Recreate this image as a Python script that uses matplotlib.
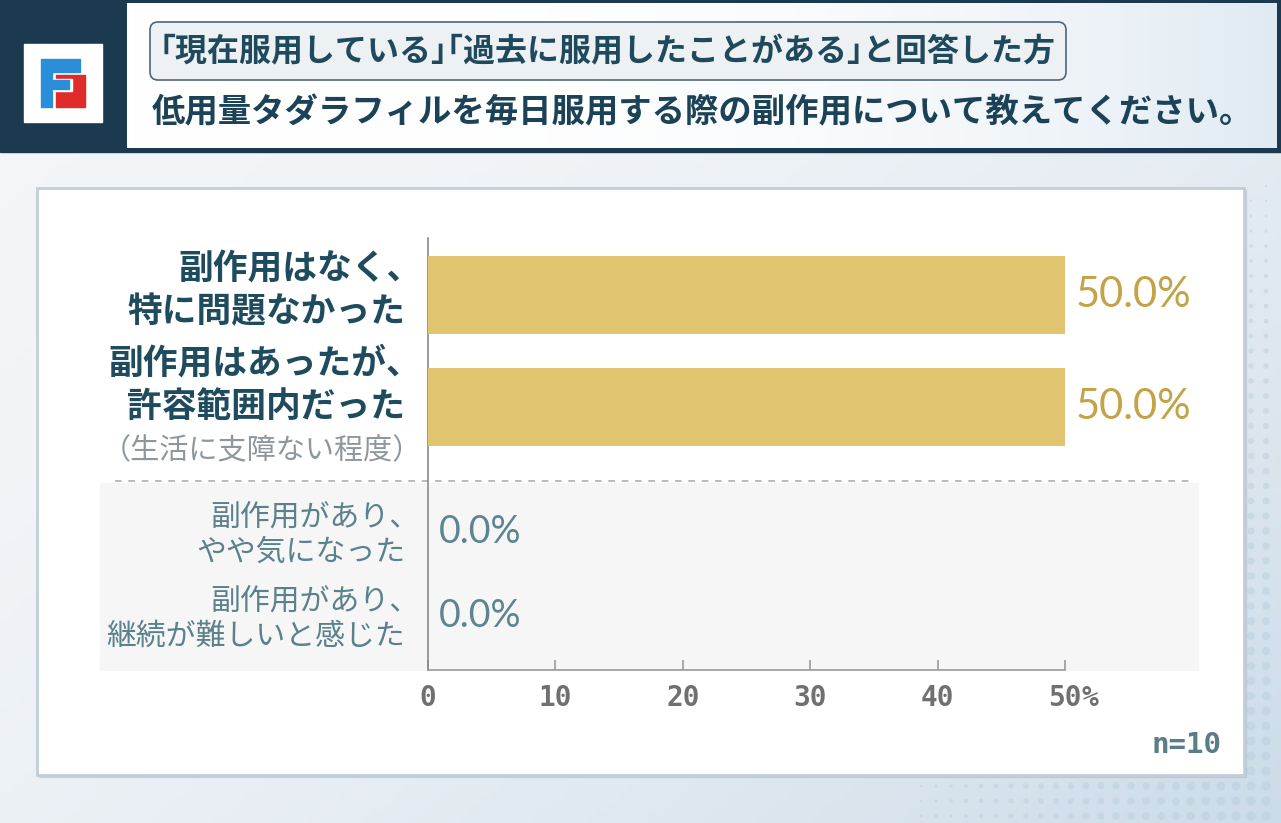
import matplotlib.pyplot as plt
from matplotlib.patches import Rectangle, FancyBboxPatch, Polygon
import numpy as np

plt.rcParams['font.family'] = ['Noto Sans CJK JP', 'DejaVu Sans']

# ---- data ----
subtitle = '｢現在服用している｣｢過去に服用したことがある｣と回答した方'
title = '低用量タダラフィルを毎日服用する際の副作用について教えてください。'
categories = ['副作用はなく、\n特に問題なかった',
              '副作用はあったが、\n許容範囲内だった',
              '副作用があり、\nやや気になった',
              '副作用があり、\n継続が難しいと感じた']
notes = ['', '（生活に支障ない程度）', '', '']
values = [50.0, 50.0, 0.0, 0.0]
highlight = [True, True, False, False]
xticks = [0, 10, 20, 30, 40, 50]
n_resp = 10

# ---- layout (pixels of a 1281x823 canvas) ----
W, H = 1281, 823
PT = 0.72                       # points per pixel at dpi 100
row_pos = [0, 1, 2.12, 2.87]    # rows in units of the top row spacing
label_shift = [-5, 0, 2, 2]     # px, vertical nudge of each label block
trail_gap = {'、': 0.47, '）': 0.6}  # empty part of the last glyph cell, in em

fig = plt.figure(figsize=(W / 100, H / 100), dpi=100)

bg = fig.add_axes([0, 0, 1, 1])
bg.set_xlim(0, W)
bg.set_ylim(H, 0)
bg.axis('off')

# background gradient
gx, gy = np.meshgrid(np.linspace(0, 1, 200), np.linspace(0, 1, 130))
t = np.clip(0.55 * gx + 0.45 * gy, 0, 1) ** 2
c0 = np.array([0.955, 0.965, 0.975])
c1 = np.array([0.80, 0.86, 0.91])
grad = c0 + (c1 - c0) * t[..., None]
bg.imshow(grad, extent=[0, W, H, 0], aspect='auto', zorder=0, origin='upper')

# halftone dots near the lower/right edges
dx, dy = np.meshgrid(np.arange(6, W, 15), np.arange(6, H, 15))
dx, dy = dx.ravel(), dy.ravel()
strength = np.clip((dx - 900) / 380, 0, 1) * np.clip((dy - 150) / 670, 0, 1)
keep = strength > 0.05
bg.scatter(dx[keep], dy[keep], s=50 * strength[keep], color='#b9cfe0',
           alpha=0.5, linewidths=0, zorder=1)

# header
bg.add_patch(Rectangle((0, 0), W, 152, color='#1b3a50', zorder=2))
hx = np.linspace(0, 1, 200)[None, :] ** 3
head = np.ones((2, 200, 3)) - (np.ones(3) - np.array([0.88, 0.92, 0.95])) * hx[..., None]
bg.imshow(head, extent=[127, 1277, 148, 3], aspect='auto', zorder=3, origin='upper')

# logo
bg.add_patch(Rectangle((24, 44), 78, 78, color='white', zorder=4))
blue, red = '#2a8fd8', '#e02b2b'
bg.add_patch(Polygon([(41, 59), (80, 59), (80, 72), (52, 72), (52, 107), (41, 107)],
                     color=blue, zorder=5))
bg.add_patch(Rectangle((56, 75), 29, 32, color=red, zorder=5))
bg.add_patch(Rectangle((53, 79), 19, 12, color='white', zorder=6))
bg.add_patch(Rectangle((52, 80), 17, 9, color=blue, zorder=7))

# subtitle box and titles
bg.add_patch(FancyBboxPatch((150, 22), 916, 58,
                            boxstyle='round,pad=0,rounding_size=8',
                            fc='#edf1f3', ec='#4f6677', lw=1.2, zorder=4))
bg.text(160, 52, subtitle, fontsize=23, color='#1f4a5d', va='center',
        ha='left', weight='bold', zorder=5)
bg.text(152, 113, title, fontsize=24, color='#1b4257', va='center', ha='left',
        weight='bold', zorder=5)

# chart panel
bg.add_patch(Rectangle((39, 190), 1207, 587, color='#9fb0bd', alpha=0.35, zorder=2))
bg.add_patch(Rectangle((37, 188), 1207, 587, fc='white', ec='#c2ced7', lw=2, zorder=3))
bg.add_patch(Rectangle((100, 483), 1098, 187, color='#f6f6f6', zorder=4))
bg.plot([115, 1195], [481, 481], color='#a9b1b6', lw=1.2, ls=(0, (4, 4)), zorder=5)

bg.text(1222, 745, f'n={n_resp}', ha='right', va='center', fontsize=21,
        family='DejaVu Sans Mono', weight='bold', color='#5b7d87', zorder=5)

# ---- bar chart ----
left, right, top, bottom = 428, 1065, 238, 670
row_px = 112
ax = fig.add_axes([left / W, 1 - bottom / H, (right - left) / W, (bottom - top) / H])
ax.set_facecolor('none')
ax.set_zorder(5)
ax.set_xlim(xticks[0], xticks[-1])
ax.set_ylim((bottom - 295) / row_px, (top - 295) / row_px)

ax.barh(row_pos, values, height=78 / row_px, color='#e0c470', zorder=3)

for s in ['top', 'right']:
    ax.spines[s].set_visible(False)
ax.spines['left'].set_color('#8a8a8a')
ax.spines['left'].set_linewidth(1.2)
ax.spines['bottom'].set_color('#9a9a9a')
ax.spines['bottom'].set_linewidth(1.2)
ax.set_yticks([])
ax.set_xticks(xticks)
ax.set_xticklabels([str(v) for v in xticks], family='DejaVu Sans Mono', weight='bold')
ax.tick_params(axis='x', direction='in', length=7, width=1.2, color='#9a9a9a',
               pad=10, labelsize=20, labelcolor='#707070')
ax.annotate('%', xy=(xticks[-1], 0), xycoords=ax.get_xaxis_transform(),
            xytext=(12.2, -10), textcoords='offset points', ha='left', va='top',
            fontsize=20, family='DejaVu Sans Mono', weight='bold', color='#707070',
            annotation_clip=False)

for i, (cat, note, v) in enumerate(zip(categories, notes, values)):
    y = row_pos[i]
    if highlight[i]:
        style = dict(fontsize=25, weight='bold', color='#1f4b5e')
        spacing = 44
        vstyle = dict(fontsize=30, color='#c2a346')
    else:
        style = dict(fontsize=21.5, color='#5b818d')
        spacing = 35
        vstyle = dict(fontsize=27, color='#5d8591')
    lines = [(s, style) for s in cat.split('\n')]
    if note:
        lines.append((note, dict(fontsize=21, color='#8e979c')))
    n = len(lines)
    for k, (txt, st) in enumerate(lines):
        off_px = (k - (n - 1) / 2) * spacing + label_shift[i]
        dx_pt = -16.6 + trail_gap.get(txt[-1], 0) * st['fontsize']
        ax.annotate(txt, xy=(0, y), xytext=(dx_pt, -off_px * PT),
                    textcoords='offset points', ha='right', va='center',
                    annotation_clip=False, **st)
    ax.annotate(f'{v:.1f}%', xy=(v, y), xytext=(8, 0), textcoords='offset points',
                ha='left', va='center', family=['Lato', 'DejaVu Sans'],
                annotation_clip=False, **vstyle)

fig.savefig('out.png', dpi=100)
